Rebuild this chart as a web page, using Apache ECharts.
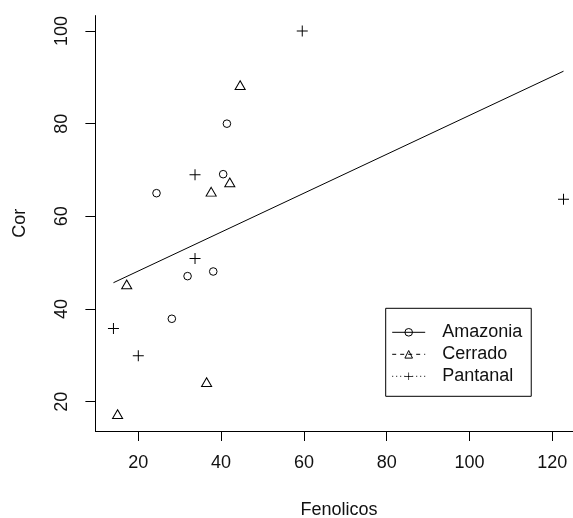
<!DOCTYPE html>
<html>
<head>
<meta charset="utf-8">
<title>Cor x Fenolicos</title>
<script src="https://cdn.jsdelivr.net/npm/echarts@6/dist/echarts.min.js"></script>
<style>
html,body{margin:0;padding:0;background:#fff}
#chart{width:573px;height:518px}
</style>
</head>
<body>
<div id="chart"></div>
<script>
// dados
var amazoniaX = [41.4, 40.5, 24.4, 31.9, 38.1, 28.1];
var amazoniaY = [80.0, 69.1, 65.0, 47.1, 48.1, 37.9];
var cerradoX  = [44.6, 42.1, 37.6, 17.2, 36.5, 15.0];
var cerradoY  = [88.0, 67.0, 65.0, 45.0, 23.9, 17.0];
var pantanalX = [59.6, 33.7, 33.7, 14.0, 20.0, 122.7];
var pantanalY = [100.0, 69.0, 50.9, 35.8, 29.9, 63.7];

var xTicks = [20, 40, 60, 80, 100, 120];
var yTicks = [20, 40, 60, 80, 100];

var fonte = "'Liberation Sans', Arial, sans-serif";

function pares(xs, ys) {
	var out = [];
	for (var i = 0; i < xs.length; i++) {
		out.push([xs[i], ys[i]]);
	}
	return out;
}

// reta do lm(Cor ~ Fenolicos) com todos os pontos, de min(x) ate max(x)
function ajuste(xs, ys) {
	var n = xs.length, mx = 0, my = 0;
	for (var i = 0; i < n; i++) { mx += xs[i]; my += ys[i]; }
	mx /= n; my /= n;
	var sxy = 0, sxx = 0;
	for (var j = 0; j < n; j++) {
		sxy += (xs[j] - mx) * (ys[j] - my);
		sxx += (xs[j] - mx) * (xs[j] - mx);
	}
	var b = sxy / sxx, a = my - b * mx;
	var x0 = Math.min.apply(null, xs), x1 = Math.max.apply(null, xs);
	return [[x0, a + b * x0], [x1, a + b * x1]];
}

var todosX = amazoniaX.concat(cerradoX, pantanalX);
var todosY = amazoniaY.concat(cerradoY, pantanalY);

var cruz = 'path://M5,0H6V5H11V6H6V11H5V6H0V5H5Z';

var myChart = echarts.init(document.getElementById('chart'));
myChart.setOption({
	animation: false,
	backgroundColor: '#fff',
	grid: {
		left: 95.4,
		top: 15.6,
		width: 487.4,
		height: 415.4,
		outerBoundsMode: 'none'
	},
	xAxis: {
		type: 'value',
		min: 9.64,
		max: 127.36,
		name: 'Fenolicos',
		nameLocation: 'middle',
		nameGap: 70,
		nameMoveOverlap: false,
		nameTextStyle: { color: '#111', fontSize: 18, fontFamily: fonte },
		axisLine: { show: true, onZero: false, lineStyle: { color: '#000', width: 1 } },
		axisTick: { show: true, length: 10, customValues: xTicks, lineStyle: { color: '#000', width: 1 } },
		axisLabel: { customValues: xTicks, margin: 23, color: '#111', fontSize: 18, fontFamily: fonte },
		splitLine: { show: false }
	},
	yAxis: {
		type: 'value',
		min: 13.68,
		max: 103.32,
		name: 'Cor',
		nameLocation: 'middle',
		nameGap: 66,
		nameMoveOverlap: false,
		nameTextStyle: { color: '#111', fontSize: 18, fontFamily: fonte },
		axisLine: { show: true, onZero: false, lineStyle: { color: '#000', width: 1 } },
		axisTick: { show: true, length: 10, customValues: yTicks, lineStyle: { color: '#000', width: 1 } },
		axisLabel: { customValues: yTicks, margin: 24, rotate: 90, color: '#111', fontSize: 18, fontFamily: fonte },
		splitLine: { show: false }
	},
	legend: {
		orient: 'vertical',
		left: 385.7,
		top: 308.3,
		padding: [13, 9, 9, 6],
		itemGap: 0,
		itemWidth: 33,
		itemHeight: 9.5,
		selectedMode: false,
		backgroundColor: '#fff',
		borderColor: '#000',
		borderWidth: 1,
		borderRadius: 0,
		itemStyle: { borderWidth: 1 },
		textStyle: { color: '#111', fontSize: 18, fontFamily: fonte, lineHeight: 22, padding: [0, 0, 0, 12] },
		data: [
			{ name: 'Amazonia', lineStyle: { type: 'solid', width: 1, color: '#000', opacity: 1 } },
			{ name: 'Cerrado', lineStyle: { type: [4, 4], width: 1, color: '#000', opacity: 1 } },
			{ name: 'Pantanal', lineStyle: { type: [1, 3], width: 1, color: '#000', opacity: 1 } }
		]
	},
	series: [
		{
			name: 'Amazonia',
			type: 'line',
			data: pares(amazoniaX, amazoniaY),
			symbol: 'circle',
			symbolSize: 7.6,
			lineStyle: { width: 0 },
			itemStyle: { color: 'transparent', borderColor: '#000', borderWidth: 1 },
			z: 3
		},
		{
			name: 'Cerrado',
			type: 'line',
			data: pares(cerradoX, cerradoY),
			symbol: 'triangle',
			symbolSize: [10.1, 8.75],
			symbolOffset: [0, -1.46],
			lineStyle: { width: 0 },
			itemStyle: { color: 'transparent', borderColor: '#000', borderWidth: 1 },
			z: 3
		},
		{
			name: 'Pantanal',
			type: 'line',
			data: pares(pantanalX, pantanalY),
			symbol: cruz,
			symbolSize: 11,
			lineStyle: { width: 0 },
			itemStyle: { color: '#000', borderWidth: 0 },
			z: 3
		},
		{
			type: 'line',
			data: ajuste(todosX, todosY),
			symbol: 'none',
			silent: true,
			lineStyle: { color: '#000', width: 1 },
			z: 2
		}
	]
});
</script>
</body>
</html>
